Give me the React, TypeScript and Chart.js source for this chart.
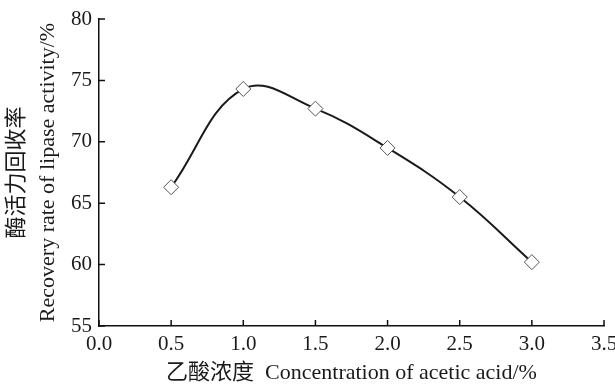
import React, { useEffect, useRef } from "react";
import { Chart, registerables } from "chart.js";

Chart.register(...registerables);

const concentrations = [0.5, 1.0, 1.5, 2.0, 2.5, 3.0];
const recoveryRates = [66.3, 74.3, 72.7, 69.5, 65.5, 60.2];
const xTitle = "乙酸浓度  Concentration of acetic acid/%";
const yTitleLines = ["酶活力回收率", "Recovery rate of lipase activity/%"];

const FONT = "'Liberation Serif', 'Times New Roman', 'Noto Sans CJK SC', serif";
const TEXT = "#1a1a1a";

const innerTicks = {
  id: "innerTicks",
  afterDraw(chart: any) {
    const ctx = chart.ctx;
    const { x, y } = chart.scales;
    ctx.save();
    ctx.strokeStyle = "#111";
    ctx.lineWidth = 1.5;
    ctx.beginPath();
    x.ticks.forEach((t: any) => {
      const px = x.getPixelForValue(t.value);
      ctx.moveTo(px, y.bottom);
      ctx.lineTo(px, y.bottom - 6);
    });
    y.ticks.forEach((t: any) => {
      const py = y.getPixelForValue(t.value);
      ctx.moveTo(x.left, py);
      ctx.lineTo(x.left + 6, py);
    });
    ctx.stroke();
    ctx.restore();
  },
};

export default function App() {
  const ref = useRef<HTMLCanvasElement>(null);
  useEffect(() => {
    if (!ref.current) return;
    const chart = new Chart(ref.current, {
      type: "line",
      data: {
        datasets: [
          {
            data: concentrations.map((c, i) => ({ x: c, y: recoveryRates[i] })),
            borderColor: "#1a1a1a",
            borderWidth: 2,
            tension: 0.4,
            pointStyle: "rectRot",
            pointRadius: 7.5,
            pointBackgroundColor: "#ffffff",
            pointBorderColor: "#555555",
            pointBorderWidth: 1,
          },
        ],
      },
      plugins: [innerTicks],
      options: {
        animation: false,
        responsive: false,
        maintainAspectRatio: false,
        layout: { padding: { top: 19, right: 11, left: 0, bottom: 0 } },
        plugins: { legend: { display: false }, tooltip: { enabled: false } },
        scales: {
          x: {
            type: "linear",
            min: 0,
            max: 3.5,
            afterFit: (s: any) => {
              s.height = 59;
              s.paddingLeft = 0;
              s.paddingRight = 0;
            },
            ticks: {
              stepSize: 0.5,
              callback: (v: any) => Number(v).toFixed(1),
              font: { family: FONT, size: 21 },
              color: TEXT,
              padding: 6,
              maxRotation: 0,
              autoSkip: false,
            },
            grid: { display: false, drawTicks: false },
            border: { display: true, color: "#111", width: 1.5 },
            title: {
              display: true,
              text: xTitle,
              font: { family: FONT, size: 22, lineHeight: 1.0 },
              color: TEXT,
              padding: { top: 0, bottom: 1 },
            },
          },
          y: {
            type: "linear",
            min: 55,
            max: 80,
            afterFit: (s: any) => {
              s.width = 99;
              s.paddingTop = 0;
              s.paddingBottom = 0;
            },
            ticks: {
              stepSize: 5,
              font: { family: FONT, size: 21 },
              color: TEXT,
              padding: 7,
            },
            grid: { display: false, drawTicks: false },
            border: { display: true, color: "#111", width: 1.5 },
            title: {
              display: true,
              text: yTitleLines,
              font: { family: FONT, size: 22, lineHeight: 1.4 },
              color: TEXT,
              padding: { top: 2, bottom: 0 },
            },
          },
        },
      },
    });
    return () => chart.destroy();
  }, []);
  return (
    <div style={{ position: "absolute", left: 0, top: 0, width: 615, height: 385, background: "#fff" }}>
      <canvas ref={ref} width={615} height={385} style={{ width: 615, height: 385 }} />
    </div>
  );
}
